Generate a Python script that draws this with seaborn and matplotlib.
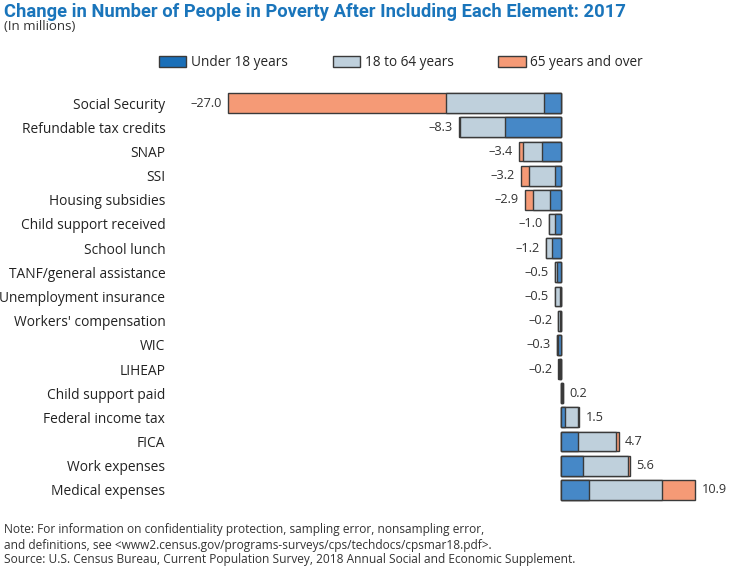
import matplotlib
matplotlib.use("Agg")
import matplotlib.pyplot as plt
import matplotlib.patches as mpatches
import seaborn as sns
import pandas as pd
import numpy as np

categories = ["Social Security", "Refundable tax credits", "SNAP", "SSI",
              "Housing subsidies", "Child support received", "School lunch",
              "TANF/general assistance", "Unemployment insurance",
              "Workers' compensation", "WIC", "LIHEAP", "Child support paid",
              "Federal income tax", "FICA", "Work expenses", "Medical expenses"]
under18 = [-1.4, -4.5, -1.5, -0.5, -0.9, -0.5, -0.7, -0.3, -0.1, -0.05, -0.2, -0.05, 0.05, 0.3, 1.4, 1.8, 2.3]
adults = [-7.9, -3.7, -1.6, -2.1, -1.4, -0.5, -0.5, -0.2, -0.4, -0.15, -0.1, -0.1, 0.15, 1.1, 3.1, 3.6, 5.9]
seniors = [-17.7, -0.1, -0.3, -0.6, -0.6, 0.0, 0.0, 0.0, 0.0, 0.0, 0.0, -0.05, 0.0, 0.1, 0.2, 0.2, 2.7]
totals = [-27.0, -8.3, -3.4, -3.2, -2.9, -1.0, -1.2, -0.5, -0.5, -0.2, -0.3, -0.2, 0.2, 1.5, 4.7, 5.6, 10.9]
series = ["Under 18 years", "18 to 64 years", "65 years and over"]

c_blue = "#4688c7"
c_light = "#bfd0dc"
c_orange = "#f59a76"
edge = "#3a3a3a"

df = pd.DataFrame({"cat": categories,
                   "c1": np.array(under18),
                   "c2": np.array(under18) + np.array(adults),
                   "c3": np.array(under18) + np.array(adults) + np.array(seniors)})

sns.set_style("white")
plt.rcParams["font.family"] = ["Open Sans", "DejaVu Sans"]

fig = plt.figure(figsize=(7.3, 5.7), dpi=100)
ax = fig.add_axes([175 / 730, 1 - 502 / 570, (720 - 175) / 730, (502 - 91) / 570])

for col, c in [("c3", c_orange), ("c2", c_light), ("c1", c_blue)]:
    sns.barplot(data=df, x=col, y="cat", orient="h", color=c, edgecolor=edge,
                linewidth=1.0, width=0.82, ax=ax, saturation=1)

ax.set_xlim(-31.3, 12.9)
ax.set_ylim(16.5, -0.5)
ax.set_xlabel("")
ax.set_ylabel("")
ax.set_xticks([])
for s in ax.spines.values():
    s.set_visible(False)
ax.tick_params(axis="y", length=0, pad=7, labelsize=9.9, labelcolor="#222222")

for i, t in enumerate(totals):
    txt = f"{abs(t):.1f}"
    if t < 0:
        ax.annotate("\u2013" + txt, (t, i), xytext=(-4.5, 0), textcoords="offset points",
                    ha="right", va="center", fontsize=9.2, color="#333333")
    else:
        ax.annotate(txt, (t, i), xytext=(4.5, 0), textcoords="offset points",
                    ha="left", va="center", fontsize=9.2, color="#333333")

handles = [mpatches.Patch(facecolor="#1a6fb8", edgecolor=edge, linewidth=1.0),
           mpatches.Patch(facecolor=c_light, edgecolor=edge, linewidth=1.0),
           mpatches.Patch(facecolor=c_orange, edgecolor=edge, linewidth=1.0)]
fig.legend(handles, series, loc="center", bbox_to_anchor=(401 / 730, 1 - 63 / 570),
           ncol=3, frameon=False, fontsize=9.8, handlelength=2.0, handleheight=0.9,
           handletextpad=0.35, columnspacing=3.3)

fig.text(4 / 730, 1 - 12 / 570, "Change in Number of People in Poverty After Including Each Element: 2017",
         fontsize=13.2, fontweight="bold", color="#1a75bb", ha="left", va="center",
         family=["Roboto", "DejaVu Sans"])
fig.text(4 / 730, 1 - 27 / 570, "(In millions)", fontsize=9.5, color="#333333", ha="left", va="center")

notes = ["Note: For information on confidentiality protection, sampling error, nonsampling error,",
         "and definitions, see <www2.census.gov/programs-surveys/cps/techdocs/cpsmar18.pdf>.",
         "Source: U.S. Census Bureau, Current Population Survey, 2018 Annual Social and Economic Supplement."]
for k, line in enumerate(notes):
    fig.text(4 / 730, 1 - (530 + 15 * k) / 570, line, fontsize=8.6, color="#333333",
             ha="left", va="center")

fig.savefig("out.png", dpi=100)
